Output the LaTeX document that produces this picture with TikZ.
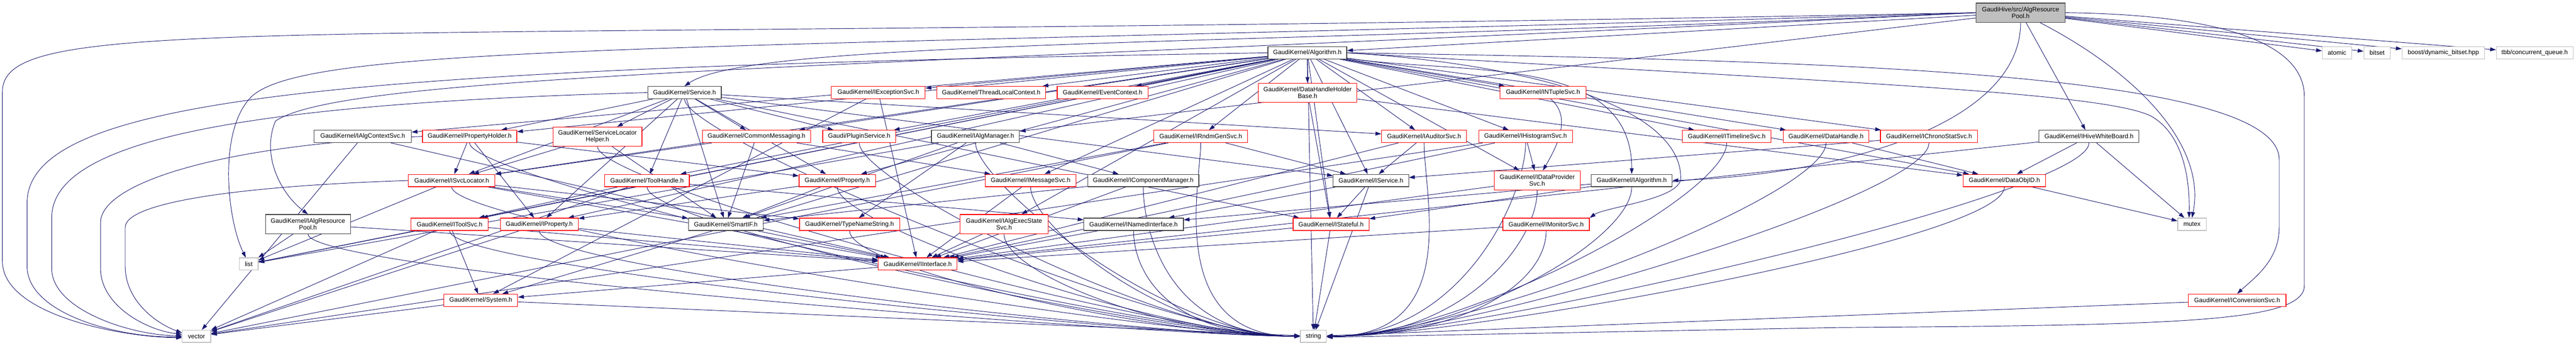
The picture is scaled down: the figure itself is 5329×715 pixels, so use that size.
\documentclass[tikz,border=0pt]{standalone}
\usepackage{fontspec}
\newfontfamily\gfont{Liberation Sans}
\usetikzlibrary{arrows.meta}
\pgfdeclarelayer{background}
\pgfsetlayers{background,main}
\definecolor{edgecol}{HTML}{191970}
\definecolor{dk}{HTML}{404040}
\definecolor{lg}{HTML}{BFBFBF}
\definecolor{rd}{HTML}{FF0000}
\tikzset{
 box/.style={draw, fill=white, inner sep=0pt, minimum height=2.54pt, font=\gfont\fontsize{1.3}{1.4}\selectfont, align=center, line width=0.13pt, text=black},
 rn/.style={box, draw=rd},
 bn/.style={box, draw=dk},
 gn/.style={box, draw=lg},
 two/.style={minimum height=3.96pt},
 lnk/.style={draw=edgecol, line width=0.1pt, -{Triangle[length=1.2pt,width=0.8pt]}},
}
\begin{document}
\begin{tikzpicture}[x=0.1pt,y=0.1pt]
\useasboundingbox (0,0) rectangle (5329,-715);
% rank 0
\node[box,draw=dk,fill=lg,two,minimum width=18.4pt] (root) at (4180,-26.2) {GaudiHive/src/AlgResource\\Pool.h};
% rank 1
\node[bn,minimum width=16.3pt] (alg) at (2704.5,-109.1) {GaudiKernel/Algorithm.h};
\node[gn,minimum width=6.1pt] (atomic) at (4834.5,-109.1) {atomic};
\node[gn,minimum width=5.5pt] (bitset) at (4917.5,-109.1) {bitset};
\node[gn,minimum width=17.1pt] (boost) at (5054.5,-109.1) {boost/dynamic\_bitset.hpp};
\node[gn,minimum width=15.9pt] (tbb) at (5243.5,-109.1) {tbb/concurrent\_queue.h};
% rank 2
\node[bn,minimum width=15.2pt] (svc) at (1416,-191.3) {GaudiKernel/Service.h};
\node[rn,minimum width=19.4pt] (iexc) at (1817,-191.3) {GaudiKernel/IExceptionSvc.h};
\node[rn,minimum width=22.5pt] (tlc) at (2050.5,-191.3) {GaudiKernel/ThreadLocalContext.h};
\node[rn,minimum width=18.8pt] (evc) at (2281,-191.3) {GaudiKernel/EventContext.h};
\node[rn,two,minimum width=20.4pt] (dhhb) at (2705,-191.8) {GaudiKernel/DataHandleHolder\\Base.h};
\node[rn,minimum width=17.8pt] (intup) at (3192,-191.3) {GaudiKernel/INTupleSvc.h};
% rank 3
\node[bn,minimum width=20.1pt] (iactx) at (750.5,-282) {GaudiKernel/IAlgContextSvc.h};
\node[rn,minimum width=19.5pt] (phold) at (971.5,-282) {GaudiKernel/PropertyHolder.h};
\node[rn,two,minimum width=18.4pt] (slh) at (1236,-282.3) {GaudiKernel/ServiceLocator\\Helper.h};
\node[rn,minimum width=22.4pt] (cmsg) at (1565,-282) {GaudiKernel/CommonMessaging.h};
\node[rn,minimum width=15.1pt] (plug) at (1777.5,-282) {Gaudi/PluginService.h};
\node[bn,minimum width=18.2pt] (iamgr) at (2018,-282) {GaudiKernel/IAlgManager.h};
\node[rn,minimum width=19.4pt] (irndm) at (2484,-282) {GaudiKernel/IRndmGenSvc.h};
\node[rn,minimum width=17.6pt] (iaud) at (2946,-282) {GaudiKernel/IAuditorSvc.h};
\node[rn,minimum width=19.4pt] (ihist) at (3156,-282) {GaudiKernel/IHistogramSvc.h};
\node[rn,minimum width=18.4pt] (itime) at (3572,-282) {GaudiKernel/ITimelineSvc.h};
\node[rn,minimum width=17.7pt] (dh) at (3777.5,-282) {GaudiKernel/DataHandle.h};
\node[rn,minimum width=20.1pt] (ichrono) at (3990.5,-282) {GaudiKernel/IChronoStatSvc.h};
\node[bn,minimum width=20.7pt] (ihive) at (4321.5,-282) {GaudiKernel/IHiveWhiteBoard.h};
% rank 4
\node[rn,minimum width=17.9pt] (isvcl) at (934.5,-373.1) {GaudiKernel/ISvcLocator.h};
\node[rn,minimum width=17.5pt] (th) at (1338.5,-373.1) {GaudiKernel/ToolHandle.h};
\node[rn,minimum width=15.8pt] (prop) at (1732,-373.1) {GaudiKernel/Property.h};
\node[rn,minimum width=18.8pt] (imsg) at (2132,-373.1) {GaudiKernel/IMessageSvc.h};
\node[bn,minimum width=23.0pt] (icm) at (2365,-373.1) {GaudiKernel/IComponentManager.h};
\node[bn,minimum width=15.6pt] (iserv) at (2836,-373.1) {GaudiKernel/IService.h};
\node[rn,two,minimum width=17.8pt] (idp) at (3180,-372.8) {GaudiKernel/IDataProvider\\Svc.h};
\node[bn,minimum width=16.7pt] (ialgo) at (3375.5,-373.1) {GaudiKernel/IAlgorithm.h};
\node[rn,minimum width=17.1pt] (doid) at (4146.5,-373.1) {GaudiKernel/DataObjID.h};
% rank 5
\node[bn,two,minimum width=17.6pt] (iarp) at (637,-463.1) {GaudiKernel/IAlgResource\\Pool.h};
\node[rn,minimum width=16.0pt] (itool) at (930,-463.6) {GaudiKernel/IToolSvc.h};
\node[rn,minimum width=16.1pt] (iprop) at (1115.5,-463.6) {GaudiKernel/IProperty.h};
\node[bn,minimum width=15.5pt] (smart) at (1501.5,-463.6) {GaudiKernel/SmartIF.h};
\node[rn,minimum width=20.7pt] (tns) at (1757.5,-463.6) {GaudiKernel/TypeNameString.h};
\node[rn,two,minimum width=18.2pt] (iaes) at (2077,-463.1) {GaudiKernel/IAlgExecState\\Svc.h};
\node[bn,minimum width=20.6pt] (inamed) at (2345,-463.6) {GaudiKernel/INamedInterface.h};
\node[rn,minimum width=15.7pt] (istate) at (2753.5,-463.6) {GaudiKernel/IStateful.h};
\node[rn,minimum width=17.9pt] (imon) at (3198.5,-463.6) {GaudiKernel/IMonitorSvc.h};
\node[gn,minimum width=5.9pt] (mutex) at (4534.5,-463.6) {mutex};
% rank 6
\node[gn,minimum width=3.9pt] (list) at (514.5,-545.6) {list};
\node[rn,minimum width=16.3pt] (iint) at (1898.5,-545.6) {GaudiKernel/IInterface.h};
% rank 7
\node[rn,minimum width=15.3pt] (system) at (994.5,-620.6) {GaudiKernel/System.h};
\node[rn,minimum width=20.2pt] (iconv) at (4628,-620.6) {GaudiKernel/IConversionSvc.h};
% rank 8
\node[gn,minimum width=5.9pt] (vector) at (406.5,-695) {vector};
\node[gn,minimum width=5.4pt] (string) at (2717,-695) {string};

\begin{pgfonlayer}{background}
\fill[white] (0,0) rectangle (5329,-715);
% routed connectors
\draw[lnk] (root.west) .. controls (600,-95) and (5,-20) .. (5,-190) -- (5,-540) .. controls (5,-650) and (250,-697) .. ([yshift=-0.3pt]vector.west);
\draw[lnk] (alg.west) .. controls (700,-140) and (56,-200) .. (56,-420) -- (56,-550) .. controls (56,-650) and (250,-699) .. ([yshift=-0.1pt]vector.west);
\draw[lnk] (svc.west) .. controls (450,-215) and (107,-300) .. (107,-450) -- (107,-555) .. controls (107,-640) and (270,-693) .. ([yshift=0.1pt]vector.west);
\draw[lnk] (phold.west) .. controls (450,-300) and (208,-380) .. (208,-460) -- (208,-555) .. controls (208,-630) and (300,-682) .. ([yshift=0.4pt]vector.west);
\draw[lnk] (isvcl.west) .. controls (480,-385) and (259,-420) .. (259,-470) -- (259,-550) .. controls (259,-620) and (320,-667) .. ([yshift=0.7pt]vector.west);
\draw[lnk] (root.east) .. controls (4600,-30) and (4767,-90) .. (4767,-200) -- (4767,-590) .. controls (4767,-667) and (4500,-672) .. (3800,-677) -- ([yshift=-0.2pt]string.east);
\draw[lnk] (root.west) .. controls (1500,-105) and (640,-85) .. (520,-200) .. controls (450,-270) and (470,-455) .. ([xshift=-0.6pt]list.north);
\draw[lnk] (root.west) .. controls (1800,-140) and (720,-150) .. (570,-250) .. controls (540,-320) and (580,-400) .. (iarp.north);
\draw[lnk] (root.west) .. controls (2600,-95) and (1560,-80) .. (svc.north);
\draw[lnk] ([xshift=4pt]root.south) .. controls (4420,-150) and (4565,-300) .. (mutex.north);
\draw[lnk] (root.south) .. controls (4180,-260) and (3800,-362) .. (ialgo.east);
\draw[lnk] (alg.east) .. controls (3800,-125) and (4715,-150) .. (4715,-330) -- (4715,-470) .. controls (4715,-540) and (4660,-577) .. (iconv.north);
\draw[lnk] (alg.east) .. controls (3800,-170) and (4350,-190) .. (4450,-240) .. controls (4520,-280) and (4530,-378) .. ([xshift=-0.6pt]mutex.north);
\draw[lnk] (alg.east) .. controls (3200,-135) and (3477,-230) .. (3477,-368) .. controls (3477,-412) and (3320,-428) .. (imon.north east);
\draw[lnk] (alg) to[out=-8,in=90] (ialgo);
\draw[lnk] (intup) to[out=-40,in=60] (idp);
% curved connectors into string
\foreach \a in {iaud,ichrono,doid,ihive,itime,dh,imon,idp,ihist,ialgo}
  \draw[lnk] (\a.south) .. controls ([yshift=-11pt]\a.south) and ([xshift=28pt]string.east) .. (string.east);
\foreach \a in {svc,phold,slh,isvcl,iarp,itool,iprop,th,prop,plug,tns,iamgr,imsg,iaes,icm,inamed,irndm}
  \draw[lnk] (\a.south) .. controls ([yshift=-8pt]\a.south) and ([xshift=-28pt]string.west) .. (string.west);
% straight connectors
\foreach \a/\b in {root/alg, root/iamgr, root/ihive, root/atomic, root/bitset, root/boost, root/tbb,
  alg/imsg, alg/iprop, alg/iserv, alg/istate, alg/isvcl, alg/phold, alg/system, alg/th, alg/iaud,
  alg/tlc, alg/evc, alg/itime, alg/plug, alg/string, alg/cmsg, alg/dhhb, alg/doid, alg/iactx,
  alg/iaes, alg/ichrono, alg/idp, alg/iexc, alg/ihist, alg/intup, alg/irndm, alg/itool, alg/prop,
  alg/dh, alg/list,
  svc/cmsg, svc/plug, svc/th, svc/prop, svc/phold, svc/slh, svc/isvcl, svc/iserv, svc/iaud,
  svc/istate, svc/iprop, svc/smart,
  phold/isvcl, phold/iprop, phold/prop,
  slh/isvcl, slh/smart,
  isvcl/iint, isvcl/smart, isvcl/tns, isvcl/list,
  iactx/iint, iactx/vector,
  iarp/list, iarp/iint,
  itool/system, itool/iint, itool/list, itool/vector,
  iprop/iint, iprop/vector,
  system/string, system/vector,
  th/itool, th/inamed, th/vector,
  cmsg/imsg, cmsg/isvcl, cmsg/smart,
  prop/iprop, prop/smart,
  iexc/iint, iexc/system,
  iamgr/icm, iamgr/smart, iamgr/tns, iamgr/list,
  imsg/iint, iaes/iint, icm/iint, icm/smart, inamed/iint,
  irndm/iserv, irndm/smart, irndm/vector,
  dhhb/istate, dhhb/doid,
  istate/iint, istate/string,
  iserv/istate, iserv/inamed, iserv/string,
  iaud/iserv, iaud/iint,
  ihist/idp, ihist/iint, ihist/vector,
  idp/iint, imon/iint,
  ialgo/inamed, ialgo/istate,
  dh/doid, ichrono/iserv, doid/mutex,
  ihive/doid, ihive/iint, ihive/mutex,
  iconv/string, smart/iint, iint/system}
  \draw[lnk] (\a) -- (\b);
\end{pgfonlayer}
\end{tikzpicture}
\end{document}
